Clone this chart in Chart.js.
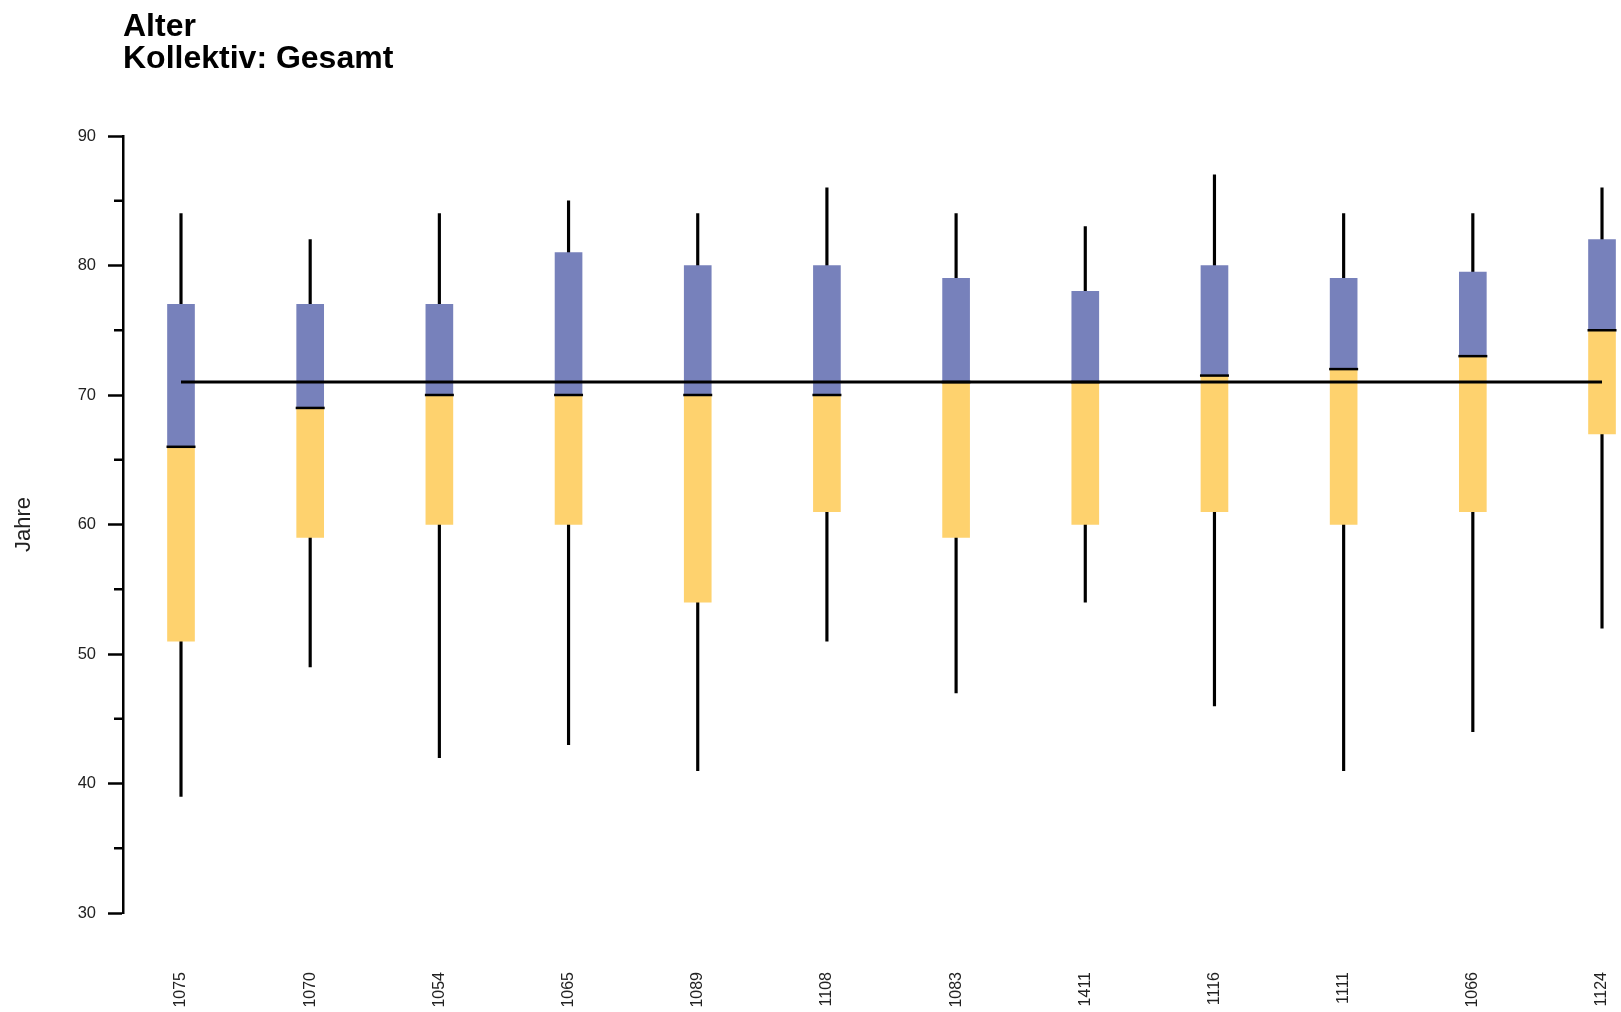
<!DOCTYPE html>
<html>
<head>
<meta charset="utf-8">
<script src="https://cdn.jsdelivr.net/npm/chart.js@4/dist/chart.umd.min.js"></script>
<style>
  html, body { margin: 0; padding: 0; background: #ffffff; }
  #wrap { position: relative; width: 1621px; height: 1012px; }
</style>
</head>
<body>
<div id="wrap"><canvas id="c" width="1621" height="1012"></canvas></div>
<script>
// ---- data ----
const categories = ['1075', '1070', '1054', '1065', '1089', '1108', '1083', '1411', '1116', '1111', '1066', '1124'];
const whiskerLow  = [39, 49, 42, 43, 41, 51, 47, 54, 46, 41, 44, 52];
const quartile1   = [51, 59, 60, 60, 54, 61, 59, 60, 61, 60, 61, 67];
const medians     = [66, 69, 70, 70, 70, 70, 71, 71, 71.5, 72, 73, 75];
const quartile3   = [77, 77, 77, 81, 80, 80, 79, 78, 80, 79, 79.5, 82];
const whiskerHigh = [84, 82, 84, 85, 84, 86, 84, 83, 87, 84, 84, 86];
const overallMean = 71;
const yMajorTicks = [30, 40, 50, 60, 70, 80, 90];

const titleLines = ['Alter', 'Kollektiv: Gesamt'];
const yTitle = 'Jahre';

const FONT = "'Liberation Sans', Arial, Helvetica, sans-serif";
const BLUE = '#7781bb';
const YELLOW = '#fed26e';

const idx = categories.map((_, i) => i);

// minor (unlabelled) y ticks drawn through the y scale
const minorTickPlugin = {
  id: 'minorTicks',
  afterDraw(chart) {
    const ys = chart.scales.y;
    const ctx = chart.ctx;
    ctx.save();
    ctx.strokeStyle = '#000';
    ctx.lineWidth = 2.5;
    ys.ticks.forEach(t => {
      if (!yMajorTicks.includes(t.value)) {
        const py = ys.getPixelForValue(t.value);
        ctx.beginPath();
        ctx.moveTo(ys.right - 9, py);
        ctx.lineTo(ys.right, py);
        ctx.stroke();
      }
    });
    ctx.restore();
  }
};

new Chart(document.getElementById('c'), {
  data: {
    datasets: [
      {
        type: 'bar',
        label: 'Whisker',
        data: idx.map(i => ({ x: i, y: [whiskerLow[i], whiskerHigh[i]] })),
        backgroundColor: '#000',
        barThickness: 2.5,
        grouped: false,
        order: 6
      },
      {
        type: 'bar',
        label: 'Q1-Median',
        data: idx.map(i => ({ x: i, y: [quartile1[i], medians[i]] })),
        backgroundColor: YELLOW,
        barThickness: 27,
        grouped: false,
        order: 5
      },
      {
        type: 'bar',
        label: 'Median-Q3',
        data: idx.map(i => ({ x: i, y: [medians[i], quartile3[i]] })),
        backgroundColor: BLUE,
        barThickness: 27,
        grouped: false,
        order: 4
      },
      {
        type: 'line',
        label: 'Mittelwert',
        data: [{ x: 0, y: overallMean }, { x: categories.length - 1, y: overallMean }],
        borderColor: '#000',
        borderWidth: 3,
        pointRadius: 0,
        fill: false,
        order: 2
      },
      {
        type: 'scatter',
        label: 'Median',
        data: idx.map(i => ({ x: i, y: medians[i] })),
        pointStyle: 'line',
        pointRadius: 14.5,
        pointBorderWidth: 2.5,
        borderColor: '#000',
        backgroundColor: '#000',
        order: 1
      }
    ]
  },
  options: {
    responsive: false,
    animation: false,
    events: [],
    layout: { autoPadding: false, padding: { top: 0, left: 0, right: 0, bottom: 0 } },
    plugins: {
      legend: { display: false },
      tooltip: { enabled: false },
      title: {
        display: true,
        text: titleLines,
        align: 'start',
        fullSize: false,
        color: '#000',
        font: { family: FONT, size: 32, weight: 'bold', lineHeight: 1.0 },
        padding: { top: 10.9, bottom: 61.1 }
      }
    },
    scales: {
      x: {
        type: 'linear',
        position: 'bottom',
        offset: false,
        min: -0.449,
        max: 11.147,
        afterBuildTicks: (s) => { s.ticks = idx.map(i => ({ value: i })); },
        afterFit: (s) => { s.height = 99; s.paddingLeft = 0; s.paddingRight = 0; },
        grid: { display: true, drawOnChartArea: false, drawTicks: true, tickLength: 57, tickColor: 'rgba(0,0,0,0)' },
        border: { display: false },
        ticks: {
          autoSkip: false,
          minRotation: 90,
          maxRotation: 90,
          padding: 2,
          color: '#222',
          font: { family: FONT, size: 16 },
          callback: (v) => categories[v] !== undefined ? categories[v] : ''
        }
      },
      y: {
        type: 'linear',
        position: 'left',
        min: 30,
        max: 90,
        afterFit: (s) => { s.width = 123; s.paddingTop = 0; s.paddingBottom = 0; },
        border: { display: true, color: '#000', width: 2.5 },
        grid: {
          display: true,
          drawOnChartArea: false,
          drawTicks: true,
          tickLength: 15,
          tickWidth: 2.5,
          tickColor: (c) => (c.tick && yMajorTicks.includes(c.tick.value)) ? '#000' : 'rgba(0,0,0,0)'
        },
        ticks: {
          stepSize: 5,
          padding: 12,
          color: '#222',
          font: { family: FONT, size: 16.5 },
          callback: (v) => yMajorTicks.includes(v) ? String(v) : ''
        },
        title: {
          display: true,
          text: yTitle,
          color: '#222',
          font: { family: FONT, size: 22 },
          padding: { top: 11, bottom: 0 }
        }
      }
    }
  },
  plugins: [minorTickPlugin]
});
</script>
</body>
</html>
